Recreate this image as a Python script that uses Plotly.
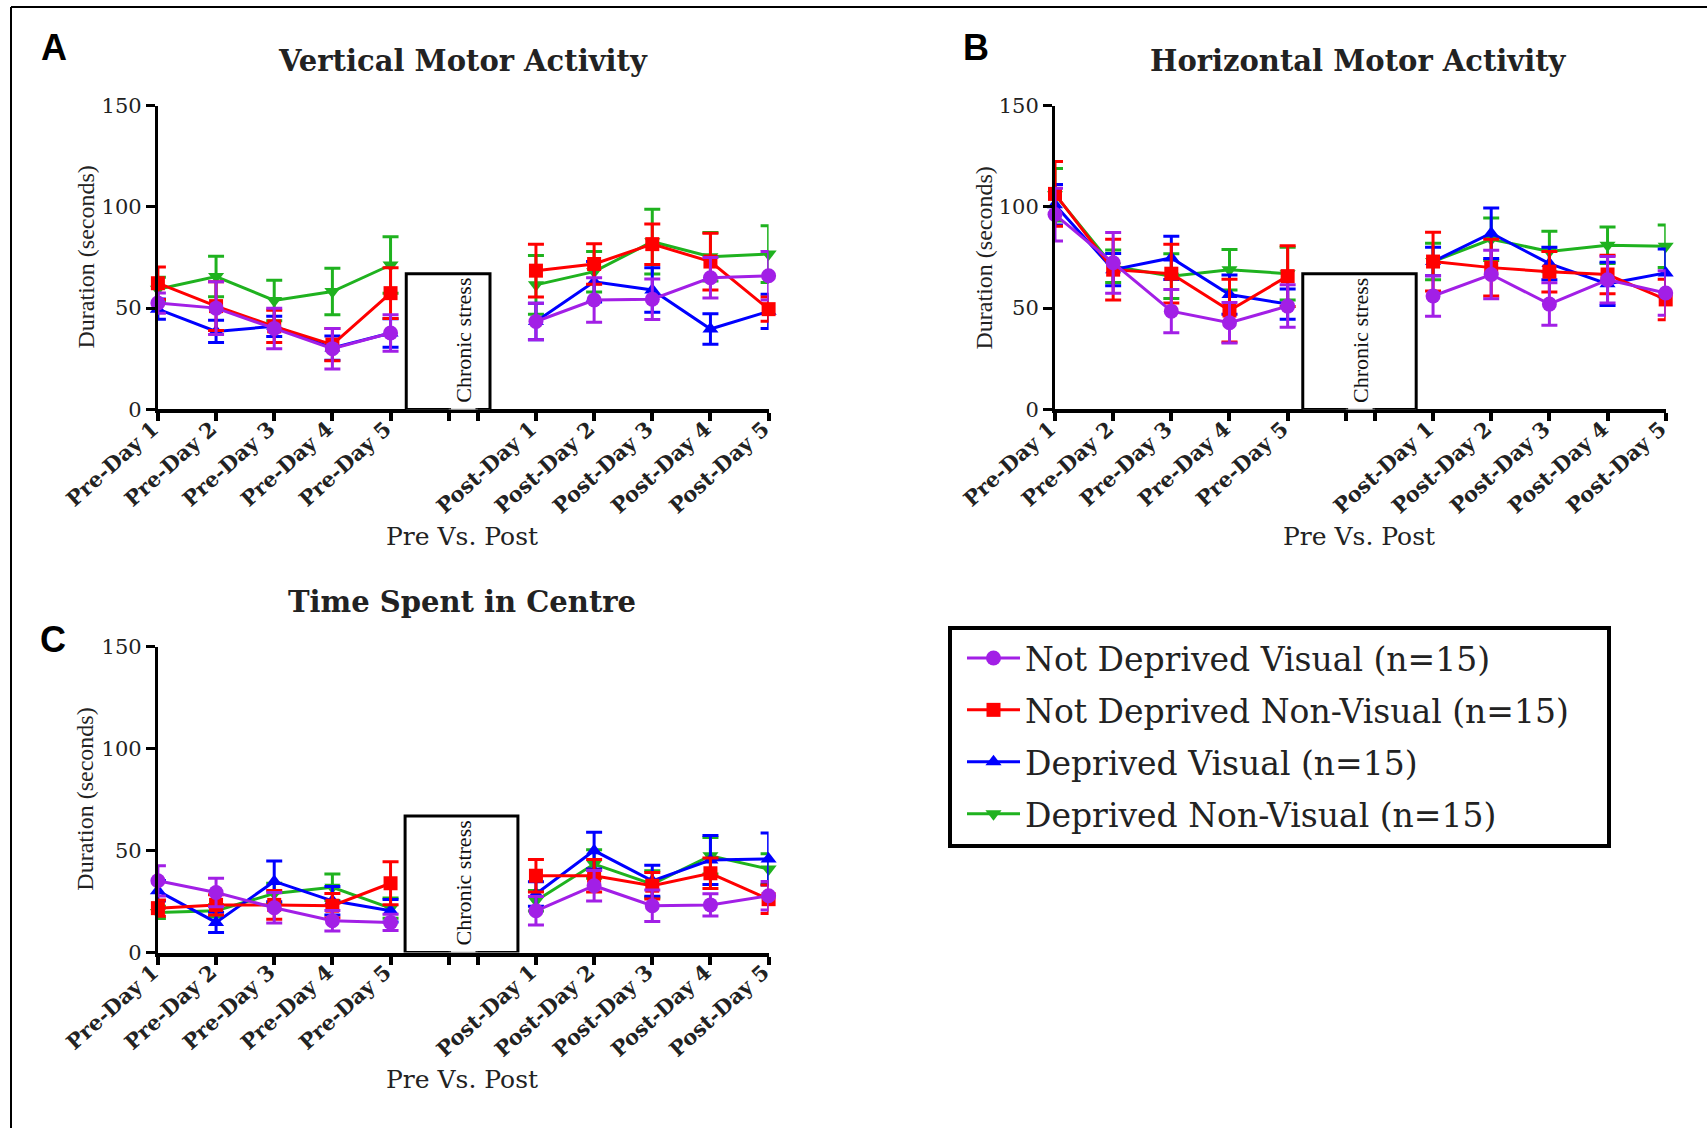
import plotly.graph_objects as go

W, H = 1707, 1128

# ---------------- data ----------------
DAYS = ["Pre-Day 1", "Pre-Day 2", "Pre-Day 3", "Pre-Day 4", "Pre-Day 5",
        "Post-Day 1", "Post-Day 2", "Post-Day 3", "Post-Day 4", "Post-Day 5"]
GROUPS = ["Not Deprived Visual (n=15)", "Not Deprived Non-Visual (n=15)",
          "Deprived Visual (n=15)", "Deprived Non-Visual (n=15)"]

# Panel A: Vertical Motor Activity (mean, sem)
vert_ndv = [52.5, 50, 40, 30, 37.7, 43.4, 54, 54.4, 65, 66]
vert_ndv_err = [5, 13, 10, 10, 9, 9, 11, 10, 10, 12]
vert_ndnv = [62.3, 51, 41, 32, 57.4, 68.5, 71.8, 81.6, 73, 49.5]
vert_ndnv_err = [8, 12, 8, 8, 12.5, 13, 10, 10, 14, 6]
vert_dv = [49.5, 38.5, 41, 30.3, 37.7, 43.4, 63, 59, 39.7, 48.4]
vert_dv_err = [5, 5.5, 5, 6, 7, 9, 10, 11, 7.5, 8.5]
vert_dnv = [59.3, 65.6, 53.8, 58.2, 71.3, 61.5, 68, 82.8, 75.4, 76.7]
vert_dnv_err = [6, 10, 10, 11.5, 14, 14.5, 10, 16, 12, 14]

# Panel B: Horizontal Motor Activity
hor_ndv = [96.2, 72.4, 48.5, 42.8, 51, 56, 66.6, 52, 64, 57.5]
hor_ndv_err = [13, 15, 10.7, 10, 10.5, 10, 12, 10.5, 11.5, 11]
hor_ndnv = [106.4, 69, 67, 48.8, 65.8, 73, 70, 68, 66.6, 54.3]
hor_ndnv_err = [16, 15, 14.5, 15.5, 15, 14.5, 14, 10, 9.5, 10]
hor_dv = [101, 69, 74.8, 56.7, 52, 73, 87, 72, 62, 67.4]
hor_dv_err = [10, 8, 10.7, 9.7, 7.5, 7, 12.5, 8, 10.7, 11.8]
hor_dnv = [106, 70.7, 65.8, 69, 67, 73, 84, 78, 81, 80.6]
hor_dnv_err = [13, 8, 11, 10, 13, 9, 10.5, 10, 9, 10.5]

# Panel C: Time Spent in Centre
cen_ndv = [35.2, 29.5, 22, 15.6, 14.8, 20.5, 32.8, 23, 23.4, 27.9]
cen_ndv_err = [7.4, 7, 7.5, 5, 4, 7, 7.5, 7.7, 5.5, 7]
cen_ndnv = [21.8, 23.4, 23.4, 23, 34, 37.7, 37.7, 32.8, 38.9, 26.2]
cen_ndnv_err = [4, 5, 7, 6, 10.5, 8, 8, 6.5, 7.5, 7]
cen_dv = [30.3, 14.8, 34.9, 25.4, 20.5, 28.7, 50, 35.2, 45.4, 45.9]
cen_dv_err = [5, 5, 10, 7, 5.5, 6, 9, 7.6, 12, 12.7]
cen_dnv = [19.7, 20.5, 29, 32, 21.8, 25.4, 43.4, 33.6, 47.5, 41]
cen_dnv_err = [3, 3, 5, 6.5, 5, 5, 7, 6.5, 9, 7.5]

# ---------------- layout constants ----------------
X_POS = [0, 1, 2, 3, 4, 6.5, 7.5, 8.5, 9.5, 10.5]   # axis positions of the days (axis break between)
BREAK_POS = [5, 5.5]
STRESS_TOP = 67
SERIF = "DejaVu Serif"
SERIF2 = "Liberation Serif"

COLORS = ["#A21FE6", "#FF0000", "#0000FF", "#1FB21F"]
SYMBOLS = ["circle", "square", "triangle-up", "triangle-down"]
MSIZE = [15, 14, 14, 14]

panels = [
    dict(title="Vertical Motor Activity", letter="A",
         series=[(vert_ndv, vert_ndv_err), (vert_ndnv, vert_ndnv_err),
                 (vert_dv, vert_dv_err), (vert_dnv, vert_dnv_err)],
         px=(157.9, 768.6), py=(105.6, 409.4), box=(4.27, 5.71),
         title_xy=(462.7, 61), letter_xy=(54, 48), ytitle_x=85, xtitle_y=536.7),
    dict(title="Horizontal Motor Activity", letter="B",
         series=[(hor_ndv, hor_ndv_err), (hor_ndnv, hor_ndnv_err),
                 (hor_dv, hor_dv_err), (hor_dnv, hor_dnv_err)],
         px=(1055, 1665.7), py=(105.6, 409.4), box=(4.26, 6.21),
         title_xy=(1358.7, 61), letter_xy=(975.5, 48), ytitle_x=983, xtitle_y=536.7),
    dict(title="Time Spent in Centre", letter="C",
         series=[(cen_ndv, cen_ndv_err), (cen_ndnv, cen_ndnv_err),
                 (cen_dv, cen_dv_err), (cen_dnv, cen_dnv_err)],
         px=(157.9, 768.6), py=(646.7, 952.6), box=(4.25, 6.19),
         title_xy=(461.6, 602), letter_xy=(53, 639), ytitle_x=85, xtitle_y=1079),
]

fig = go.Figure()
shapes, annotations = [], []

tickvals = X_POS[:5] + BREAK_POS + X_POS[5:]
ticktext = DAYS[:5] + ["", ""] + DAYS[5:]


def with_gap(seq):
    # lines are not joined across the chronic-stress break
    return list(seq[:5]) + [None] + list(seq[5:])


for pi, p in enumerate(panels):
    sfx = "" if pi == 0 else str(pi + 1)
    xa, ya = "x" + sfx, "y" + sfx
    # draw order: green, blue, red, purple (purple on top)
    for gi in [3, 2, 1, 0]:
        vals, errs = p["series"][gi]
        fig.add_trace(go.Scatter(
            x=with_gap(X_POS), y=with_gap(vals), xaxis=xa, yaxis=ya,
            mode="lines+markers", name=GROUPS[gi], legendgroup=GROUPS[gi],
            legendrank=gi + 1, connectgaps=False,
            showlegend=(pi == 0), cliponaxis=False,
            line=dict(color=COLORS[gi], width=3),
            marker=dict(symbol=SYMBOLS[gi], size=MSIZE[gi], color=COLORS[gi]),
            error_y=dict(type="data", array=with_gap(errs), color=COLORS[gi], thickness=3, width=8),
        ))
    x0, x1 = p["px"]
    y0, y1 = p["py"]
    fig.layout["xaxis" + sfx] = dict(
        domain=[x0 / W, x1 / W], anchor=ya, range=[0, 10.5], automargin=False,
        tickvals=tickvals, ticktext=ticktext, tickangle=-42,
        ticklabelstandoff=-13, ticklabelshift=-5,
        showline=True, linecolor="black", linewidth=4, ticks="outside",
        ticklen=8, tickwidth=4, tickcolor="black", showgrid=False, zeroline=False,
        tickfont=dict(family=SERIF, size=21, color="#222", weight="bold"),
    )
    fig.layout["yaxis" + sfx] = dict(
        domain=[1 - y1 / H, 1 - y0 / H], anchor=xa, range=[0, 150], automargin=False,
        tickvals=[0, 50, 100, 150], showline=True, linecolor="black", linewidth=3,
        ticks="outside", ticklen=9, tickwidth=3, tickcolor="black",
        showgrid=False, zeroline=False,
        tickfont=dict(family=SERIF, size=21, color="#222"),
    )
    # chronic stress box
    bx0, bx1 = p["box"]
    shapes.append(dict(type="rect", xref=xa, yref=ya, x0=bx0, x1=bx1, y0=0, y1=STRESS_TOP,
                       line=dict(color="black", width=3), fillcolor="white", layer="above"))
    # axis break (light segment between break ticks)
    shapes.append(dict(type="line", xref=xa, yref=ya, x0=BREAK_POS[0] + 0.04, x1=BREAK_POS[1] - 0.04,
                       y0=0, y1=0, line=dict(color="white", width=5), layer="above"))
    shapes.append(dict(type="line", xref=xa, yref=ya, x0=BREAK_POS[0], x1=BREAK_POS[1],
                       y0=0, y1=0, line=dict(color="#999", width=1.5), layer="above"))
    annotations.append(dict(text="Chronic stress", xref=xa, yref=ya, x=5.25, y=34,
                            textangle=-90, showarrow=False, xanchor="center", yanchor="middle",
                            font=dict(family=SERIF2, size=22, color="#111")))
    # titles
    tx, ty = p["title_xy"]
    annotations.append(dict(text=p["title"], xref="paper", yref="paper", x=tx / W, y=1 - ty / H,
                            showarrow=False, xanchor="center", yanchor="middle",
                            font=dict(family=SERIF, size=29, color="#222", weight="bold")))
    lx, ly = p["letter_xy"]
    annotations.append(dict(text=p["letter"], xref="paper", yref="paper", x=lx / W, y=1 - ly / H,
                            showarrow=False, xanchor="center", yanchor="middle",
                            font=dict(family="Liberation Sans", size=36, color="black", weight="bold")))
    annotations.append(dict(text="Duration (seconds)", xref="paper", yref="paper",
                            x=p["ytitle_x"] / W, y=1 - ((y0 + y1) / 2) / H, textangle=-90,
                            showarrow=False, xanchor="center", yanchor="middle",
                            font=dict(family=SERIF2, size=24, color="#222")))
    annotations.append(dict(text="Pre Vs. Post", xref="paper", yref="paper",
                            x=((x0 + x1) / 2 - 1) / W, y=1 - p["xtitle_y"] / H,
                            showarrow=False, xanchor="center", yanchor="middle",
                            font=dict(family=SERIF, size=25, color="#222")))

# legend box
shapes.append(dict(type="rect", xref="paper", yref="paper", x0=950 / W, x1=1609 / W,
                   y0=1 - 846 / H, y1=1 - 628 / H, line=dict(color="black", width=4)))
# outer frame (top and left edges)
shapes.append(dict(type="line", xref="paper", yref="paper", x0=11 / W, x1=1, y0=1 - 7 / H, y1=1 - 7 / H,
                   line=dict(color="black", width=2)))
shapes.append(dict(type="line", xref="paper", yref="paper", x0=11 / W, x1=11 / W, y0=0, y1=1 - 7 / H,
                   line=dict(color="black", width=2)))

fig.update_layout(
    width=W, height=H, margin=dict(l=0, r=0, t=0, b=0, autoexpand=False),
    paper_bgcolor="white", plot_bgcolor="white",
    shapes=shapes, annotations=annotations,
    legend=dict(x=962 / W, y=1 - 630 / H, xanchor="left", yanchor="top",
                traceorder="grouped", tracegroupgap=6, bgcolor="rgba(0,0,0,0)",
                borderwidth=0, font=dict(family=SERIF, size=33, color="#222"),
                itemwidth=53),
    showlegend=True,
)

fig.write_html("out.html")
